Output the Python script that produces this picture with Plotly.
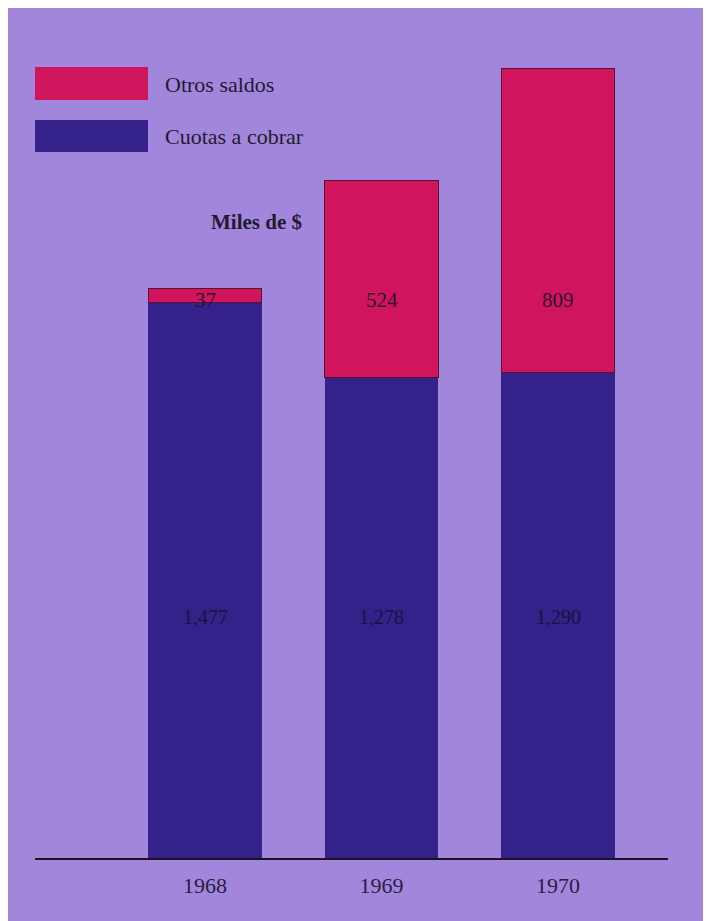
import plotly.graph_objects as go

years = ["1968", "1969", "1970"]
cuotas = [1477, 1278, 1290]
otros = [37, 524, 809]
cuotas_labels = ["1,477", "1,278", "1,290"]
otros_labels = ["37", "524", "809"]

BLUE = "#35218a"
RED = "#d0155c"
BG = "#a186dc"
SERIF = "Liberation Serif"
TXT = "#221a30"

xpos = [0, 1, 2]

# page offset (browser body margin)
OFF = 8
W, H = 711 - OFF, 921 - OFF
L, R, T, B = 35 - OFF, 711 - 668, 20 - OFF, 921 - 858
pw, ph = W - L - R, H - T - B


def px_x(p):
    return (p - OFF - L) / pw


def px_y(p):
    return (858 - p) / ph


fig = go.Figure()
fig.add_trace(go.Bar(x=xpos, y=cuotas, marker=dict(color=BLUE, line=dict(width=0)),
                     width=0.645, name="Cuotas a cobrar", hoverinfo="skip"))
fig.add_trace(go.Bar(x=xpos, y=otros, marker=dict(color=RED, line=dict(color="#5a1030", width=1)),
                     width=0.645, name="Otros saldos", hoverinfo="skip"))

ann = []
for xi, lab in zip(xpos, cuotas_labels):
    ann.append(dict(x=xi, y=px_y(617), xref="x", yref="paper", text=lab, showarrow=False,
                    xanchor="center", yanchor="middle",
                    font=dict(family=SERIF, size=20, color="#1a1240")))
for xi, lab in zip(xpos, otros_labels):
    ann.append(dict(x=xi, y=px_y(300), xref="x", yref="paper", text=lab, showarrow=False,
                    xanchor="center", yanchor="middle",
                    font=dict(family=SERIF, size=21, color="#2a1030")))

ann.append(dict(x=px_x(163), y=px_y(84), xref="paper", yref="paper", text="Otros saldos",
                showarrow=False, xanchor="left", yanchor="middle",
                font=dict(family=SERIF, size=22, color=TXT)))
ann.append(dict(x=px_x(163), y=px_y(137), xref="paper", yref="paper", text="Cuotas a cobrar",
                showarrow=False, xanchor="left", yanchor="middle",
                font=dict(family=SERIF, size=22, color=TXT)))
ann.append(dict(x=px_x(256), y=px_y(222), xref="paper", yref="paper", text="<b>Miles de $</b>",
                showarrow=False, xanchor="center", yanchor="middle",
                font=dict(family=SERIF, size=21, color=TXT)))

shapes = [
    dict(type="rect", xref="paper", yref="paper", x0=px_x(35), x1=px_x(148), y0=px_y(100), y1=px_y(67),
         fillcolor=RED, line=dict(width=0), layer="above"),
    dict(type="rect", xref="paper", yref="paper", x0=px_x(35), x1=px_x(148), y0=px_y(152), y1=px_y(120),
         fillcolor=BLUE, line=dict(width=0), layer="above"),
]

xmin = (35 - 205) / 176.5
xmax = (668 - 205) / 176.5

fig.update_layout(
    width=W, height=H,
    margin=dict(l=L, r=R, t=T, b=B),
    barmode="stack",
    paper_bgcolor=BG, plot_bgcolor=BG,
    showlegend=False,
    annotations=ann,
    shapes=shapes,
    xaxis=dict(range=[xmin, xmax], tickvals=xpos, ticktext=years, showgrid=False, zeroline=False,
               showline=True, linecolor="#1a1420", linewidth=2, ticks="", ticklen=0,
               ticklabelstandoff=7,
               tickfont=dict(family=SERIF, size=22, color="#2a2040"), fixedrange=True),
    yaxis=dict(range=[0, 838 / 0.376], showgrid=False, zeroline=False, showticklabels=False,
               showline=False, fixedrange=True),
)

fig.write_html("out.html")
